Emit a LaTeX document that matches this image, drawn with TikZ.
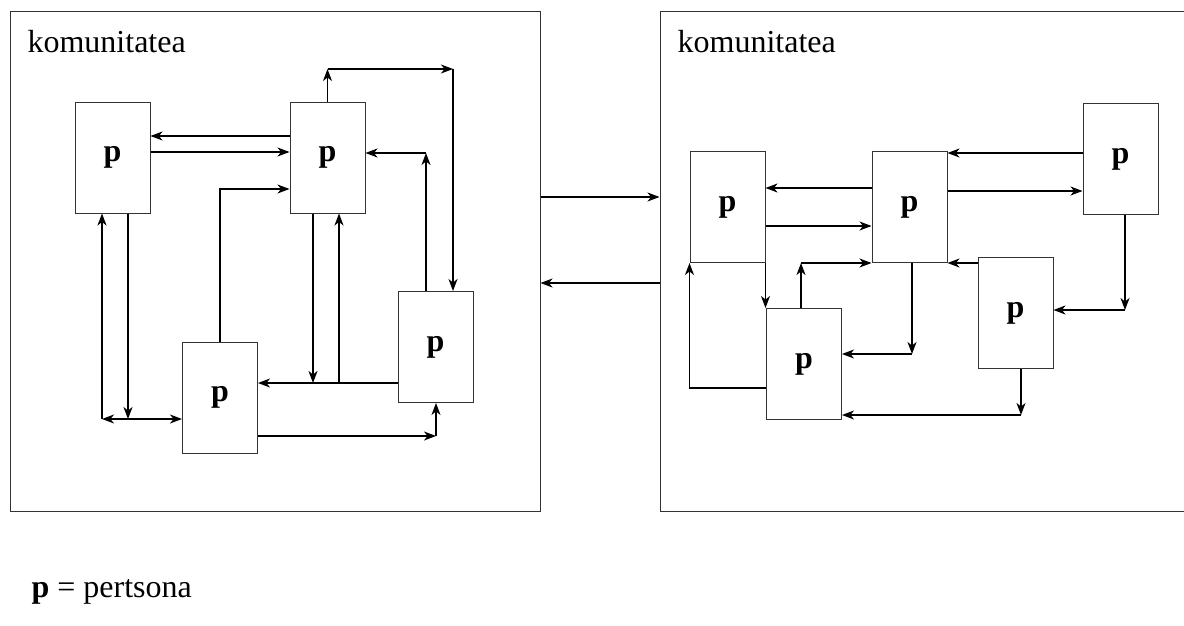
\documentclass[tikz,border=0pt]{standalone}
\usepackage{fontspec}
\setmainfont{Liberation Serif}
\usetikzlibrary{arrows.meta}

\begin{document}
\begin{tikzpicture}[x=1pt,y=-1pt,line width=1.2pt,
    >={Stealth[length=12pt,width=9pt,inset=3.5pt]},
    community/.style={draw, rectangle, inner sep=0, line width=1pt, draw=black!80},
    person/.style={draw, rectangle, inner sep=0, line width=1pt, draw=black!80,
        minimum width=75pt, minimum height=111pt,
        font=\fontsize{32}{38}\selectfont\bfseries},
    every node/.append style={font=\fontsize{32}{38}\selectfont}]
    \useasboundingbox (0,0) rectangle (1184,626);

    % the two communities
    \node[community, minimum width=530pt, minimum height=499pt] (k1) at (275,261.5) {};
    \node[community, minimum width=540pt, minimum height=499pt] (k2) at (930,261.5) {};
    \node[anchor=base west, inner sep=0] (lab1) at (27,53) {komunitatea};
    \node[anchor=base west, inner sep=0] (lab2) at (677,53) {komunitatea};

    \draw [->] (k1.east |- 0,197) -- (k2.west |- 0,197);
    \draw [->] (k2.west |- 0,283) -- (k1.east |- 0,283);

    % left community
    \node[person] (a) at (112.5,157.5) {p};
    \node[person] (b) at (327.5,157.5) {p};
    \node[person] (c) at (220,397.5) {p};
    \node[person] (d) at (435.5,347) {p};

    \coordinate (t1) at (327.5,69);
    \coordinate (t2) at (453,69);
    \coordinate (r1) at (426,153);
    \coordinate (m1) at (313,383);
    \coordinate (m2) at (339,383);
    \coordinate (s1) at (102,419);
    \coordinate (s2) at (128,419);
    \coordinate (u1) at (436,436);

    \draw [->] (b.west |- 0,136) -- (a.east |- 0,136);
    \draw [->] (a.east |- 0,152) -- (b.west |- 0,152);
    \draw [->] (c.north) |- (b.west |- 0,189);
    \draw [->] (b.north) -- (t1);
    \draw [->] (t1) -- (t2);
    \draw [->] (t2) -- (d.north -| t2);
    \draw [->] (d.north -| r1) -- (r1);
    \draw [->] (r1) -- (b.east |- r1);
    \draw [->] (b.south -| m1) -- (m1);
    \draw [->] (m2) -- (b.south -| m2);
    \draw [->] (d.west |- m1) -- (c.east |- m1);
    \draw [->] (a.south -| s2) -- (s2);
    \draw [<->] (s1) -- (c.west |- s1);
    \draw [->] (s1) -- (a.south -| s1);
    \draw [->] (c.east |- u1) -- (u1);
    \draw [->] (u1) -- (d.south -| u1);

    % right community
    \node[person] (e) at (727.5,207) {p};
    \node[person] (f) at (909.5,207) {p};
    \node[person] (g) at (1120.5,159) {p};
    \node[person] (h) at (1015.5,313) {p};
    \node[person] (i) at (804,364) {p};

    \coordinate (v1) at (801,263);
    \coordinate (w1) at (690,388);
    \coordinate (x1) at (912,354);
    \coordinate (y1) at (1125,310);
    \coordinate (z1) at (1021,415);

    \draw [->] (f.west |- 0,188) -- (e.east |- 0,188);
    \draw [->] (e.east |- 0,226) -- (f.west |- 0,226);
    \draw [->] (g.west |- 0,153) -- (f.east |- 0,153);
    \draw [->] (f.east |- 0,191) -- (g.west |- 0,191);
    \draw [->] (i.north -| v1) -- (v1);
    \draw [->] (v1) -- (f.south west);
    \draw [->] (e.south east) -- (e.south east |- i.north);
    \draw [->] (i.west |- w1) -| (e.south west);
    \draw [->] (f.south -| x1) -- (x1);
    \draw [->] (x1) -- (i.east |- x1);
    \draw [->] (h.west |- 0,263) -- (f.south east);
    \draw [->] (g.south -| y1) -- (y1);
    \draw [->] (y1) -- (h.east |- y1);
    \draw [->] (h.south -| z1) -- (z1);
    \draw [->] (z1) -- (i.east |- z1);

    % legend
    \node[anchor=base west, inner sep=0] (legend) at (31,597) {\textbf{p} = pertsona};
\end{tikzpicture}
\end{document}
